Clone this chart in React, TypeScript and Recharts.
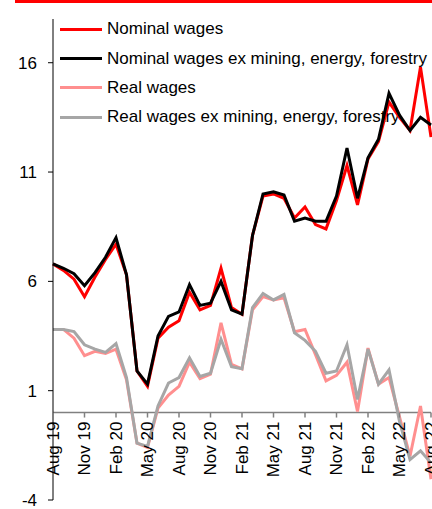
import React from 'react';
import { LineChart, Line, XAxis, YAxis, ReferenceLine } from 'recharts';

const months = [
  'Aug 19', 'Sep 19', 'Oct 19', 'Nov 19', 'Dec 19', 'Jan 20', 'Feb 20', 'Mar 20', 'Apr 20', 'May 20',
  'Jun 20', 'Jul 20', 'Aug 20', 'Sep 20', 'Oct 20', 'Nov 20', 'Dec 20', 'Jan 21', 'Feb 21', 'Mar 21',
  'Apr 21', 'May 21', 'Jun 21', 'Jul 21', 'Aug 21', 'Sep 21', 'Oct 21', 'Nov 21', 'Dec 21', 'Jan 22',
  'Feb 22', 'Mar 22', 'Apr 22', 'May 22', 'Jun 22', 'Jul 22', 'Aug 22',
];

const nominal = [
  6.8, 6.5, 6.1, 5.3, 6.2, 7.0, 7.7, 6.3, 1.9, 1.2, 3.4, 3.9, 4.2, 5.5, 4.7, 4.9, 6.6, 4.8, 4.5, 8.1,
  9.9, 10.0, 9.8, 8.9, 9.4, 8.6, 8.4, 9.7, 11.3, 9.5, 11.6, 12.4, 14.2, 13.5, 12.9, 15.8, 12.6,
];
const nominalEx = [
  6.8, 6.6, 6.35, 5.8, 6.4, 7.1, 8.0, 6.3, 1.9, 1.3, 3.5, 4.4, 4.6, 5.85, 4.9, 5.0, 6.0, 4.7, 4.5, 8.1,
  10.0, 10.1, 9.95, 8.75, 8.9, 8.75, 8.75, 9.9, 12.1, 9.8, 11.65, 12.5, 14.6, 13.6, 12.9, 13.5, 13.15,
];
const real = [
  3.8, 3.8, 3.4, 2.6, 2.8, 2.7, 2.9, 1.5, -1.4, -1.6, 0.2, 0.8, 1.2, 2.3, 1.55, 1.75, 4.1, 2.2, 2.0, 4.7,
  5.3, 5.15, 5.25, 3.7, 3.8, 2.65, 1.45, 1.7, 2.3, 0.05, 2.95, 1.3, 1.6, -0.2, -2.0, 0.3, -3.05,
];
const realEx = [
  3.8, 3.8, 3.7, 3.1, 2.9, 2.75, 3.15, 1.6, -1.4, -1.55, 0.3, 1.35, 1.6, 2.5, 1.65, 1.8, 3.35, 2.1, 2.0, 4.8,
  5.45, 5.15, 5.4, 3.65, 3.3, 2.8, 1.8, 1.9, 3.1, 0.6, 2.9, 1.3, 1.95, -0.4, -2.15, -1.75, -2.3,
];

const yTicks = [-4, 1, 6, 11, 16];
const Y_MIN = -4;
const Y_MAX = 18;

const series = [
  { key: 'nominal', name: 'Nominal wages', color: '#ff0000' },
  { key: 'nominalEx', name: 'Nominal wages ex mining, energy, forestry', color: '#000000' },
  { key: 'real', name: 'Real wages', color: '#ff8f8f' },
  { key: 'realEx', name: 'Real wages ex mining, energy, forestry', color: '#a6a6a6' },
];

const data = months.map((month, i) => ({
  month,
  nominal: nominal[i],
  nominalEx: nominalEx[i],
  real: real[i],
  realEx: realEx[i],
}));

const W = 432;
const H = 509;
const X_AXIS_H = 1;
const MARGIN = { top: 19, right: 1, bottom: 8, left: 0 };
const PLOT_H = H - MARGIN.top - MARGIN.bottom - X_AXIS_H;
const FONT = '"Liberation Sans", Arial, sans-serif';

// x axis sits on the zero line, not at the bottom of the plot
const zeroY = MARGIN.top + (PLOT_H * (Y_MAX - 0)) / (Y_MAX - Y_MIN);

const XTick = (props: any) => {
  const { x, payload } = props;
  const ty = zeroY + 9;
  return (
    <g>
      <line x1={x} x2={x} y1={zeroY} y2={zeroY + 5} stroke="#808080" strokeWidth={1.5} />
      <text
        x={x}
        y={ty}
        transform={`rotate(-90 ${x} ${ty})`}
        textAnchor="end"
        dy="0.35em"
        fill="#000"
        fontSize={17}
        fontFamily={FONT}
      >
        {payload.value}
      </text>
    </g>
  );
};

export default function App() {
  return (
    <div style={{ position: 'absolute', left: 0, top: 0, width: W, height: H, background: '#fff', overflow: 'hidden' }}>
      <div style={{ position: 'absolute', left: 15, top: 0, width: W - 15, height: 3, background: '#ff0000' }} />
      <div style={{ position: 'absolute', left: 60, top: 14.6, fontFamily: FONT, fontSize: 17, color: '#000' }}>
        {series.map((s) => (
          <div key={s.key} style={{ height: 29.33, display: 'flex', alignItems: 'center', whiteSpace: 'nowrap' }}>
            <div style={{ width: 42, height: 3, background: s.color, marginRight: 5 }} />
            <span>{s.name}</span>
          </div>
        ))}
      </div>
      <div style={{ position: 'absolute', left: 0, top: 0 }}>
        <LineChart width={W} height={H} data={data} margin={MARGIN}>
          <XAxis
            dataKey="month"
            height={X_AXIS_H}
            interval={2}
            axisLine={false}
            tickLine={false}
            tick={<XTick />}
          />
          <YAxis
            width={53}
            domain={[Y_MIN, Y_MAX]}
            ticks={yTicks}
            interval={0}
            allowDataOverflow
            tickSize={5}
            tickMargin={11}
            axisLine={{ stroke: '#000', strokeWidth: 1 }}
            tickLine={{ stroke: '#000', strokeWidth: 1 }}
            tick={{ fill: '#000', fontSize: 17, fontFamily: FONT }}
          />
          <ReferenceLine y={0} stroke="#808080" strokeWidth={1.5} />
          {series.map((s) => (
            <Line
              key={s.key}
              dataKey={s.key}
              name={s.name}
              stroke={s.color}
              strokeWidth={3}
              dot={false}
              isAnimationActive={false}
            />
          ))}
        </LineChart>
      </div>
    </div>
  );
}
